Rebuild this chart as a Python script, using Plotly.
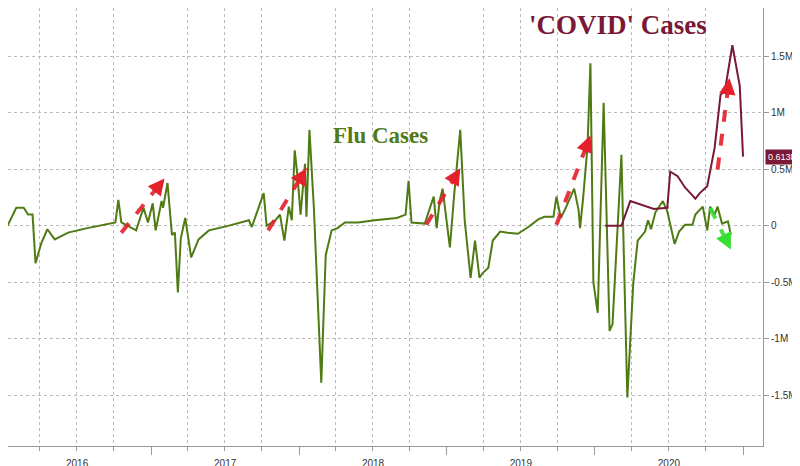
import pandas as pd
import plotly.graph_objects as go

# positions given as fractional years, values in millions
flu_t = [2016.03, 2016.09, 2016.14, 2016.17, 2016.20, 2016.22, 2016.26, 2016.30, 2016.35, 2016.44,
         2016.57, 2016.71, 2016.76, 2016.78, 2016.80, 2016.90, 2016.95, 2016.98, 2017.01, 2017.03,
         2017.07, 2017.08, 2017.11, 2017.14, 2017.16, 2017.18, 2017.20, 2017.23, 2017.27, 2017.32,
         2017.39, 2017.52, 2017.64, 2017.66, 2017.68, 2017.76, 2017.78, 2017.84, 2017.87, 2017.90,
         2017.93, 2017.95, 2017.97, 2017.99, 2018.01, 2018.04, 2018.05, 2018.07, 2018.10, 2018.15,
         2018.18, 2018.22, 2018.26, 2018.31, 2018.40, 2018.51, 2018.66, 2018.72, 2018.74, 2018.76,
         2018.85, 2018.91, 2018.93, 2018.95, 2018.97, 2019.02, 2019.05, 2019.09, 2019.12, 2019.16,
         2019.19, 2019.22, 2019.24, 2019.28, 2019.31, 2019.36, 2019.41, 2019.48, 2019.55, 2019.62,
         2019.66, 2019.72, 2019.74, 2019.77, 2019.80, 2019.84, 2019.86, 2019.89, 2019.90, 2019.92,
         2019.95, 2019.97, 2019.99, 2020.02, 2020.06, 2020.10, 2020.12, 2020.18, 2020.22, 2020.26,
         2020.29, 2020.34, 2020.36, 2020.38, 2020.41, 2020.46, 2020.49, 2020.54, 2020.57, 2020.61,
         2020.66, 2020.68, 2020.73, 2020.76, 2020.78, 2020.81, 2020.83, 2020.86, 2020.90, 2020.92]
flu_v = [0.0, 0.16, 0.16, 0.10, 0.10, -0.33, -0.15, -0.03, -0.12, -0.06,
         -0.02, 0.02, 0.03, 0.23, 0.03, -0.04, 0.16, 0.03, 0.20, -0.04,
         0.22, 0.16, 0.38, -0.08, -0.06, -0.59, -0.11, 0.07, -0.28, -0.12,
         -0.04, 0.0, 0.04, 0.05, -0.01, 0.29, 0.0, 0.05, 0.10, -0.13,
         0.17, 0.05, 0.67, 0.42, 0.10, 0.55, 0.08, 0.85, 0.16, -1.39,
         -0.26, -0.04, -0.02, 0.03, 0.03, 0.05, 0.07, 0.10, 0.40, 0.03,
         0.02, 0.26, -0.02, 0.22, 0.33, -0.19, 0.29, 0.85, 0.05, -0.46,
         -0.13, -0.46, -0.42, -0.37, -0.13, -0.05, -0.06, -0.07, -0.01, 0.06,
         0.08, 0.08, 0.26, 0.07, 0.15, 0.28, 0.33, 0.14, -0.02, 0.24,
         0.70, 1.44, -0.50, -0.77, 1.09, -0.93, -0.87, 0.63, -1.52, -0.51,
         -0.13, -0.05, 0.05, -0.03, 0.12, 0.22, 0.13, -0.16, -0.05, 0.01,
         0.01, 0.10, 0.17, -0.04, 0.17, 0.10, 0.17, 0.02, 0.04, -0.08]

covid_t = [2020.07, 2020.18, 2020.24, 2020.31, 2020.40, 2020.49, 2020.51, 2020.56, 2020.61, 2020.66,
           2020.68, 2020.71, 2020.76, 2020.81, 2020.85, 2020.88, 2020.93, 2020.98, 2021.00]
covid_v = [0.0, 0.0, 0.22, 0.19, 0.15, 0.16, 0.48, 0.44, 0.34, 0.27,
           0.24, 0.29, 0.35, 0.69, 1.16, 1.20, 1.60, 1.24, 0.613]

# trend arrows: start (t, v) -> end (t, v)
red_arrows = [((2016.80, -0.06), (2017.09, 0.42)),
              ((2017.79, -0.04), (2018.05, 0.51)),
              ((2018.86, 0.01), (2019.09, 0.51)),
              ((2019.74, 0.01), (2019.97, 0.80)),
              ((2020.83, 0.50), (2020.91, 1.31))]
green_arrows = [((2020.78, 0.16), (2020.92, -0.21))]

FLU = "#4f7a14"
COVID = "#7a1838"


def to_date(t):
    y = int(t)
    return pd.Timestamp(year=y, month=1, day=1) + pd.Timedelta(days=(t - y) * 365.25)


fig = go.Figure()
fig.add_trace(go.Scatter(x=[to_date(t) for t in flu_t], y=[v * 1e6 for v in flu_v],
                         mode="lines", line=dict(color=FLU, width=2)))
fig.add_trace(go.Scatter(x=[to_date(t) for t in covid_t], y=[v * 1e6 for v in covid_v],
                         mode="lines", line=dict(color=COVID, width=2)))

for arrows, col in [(red_arrows, "#e4202a"), (green_arrows, "#33e033")]:
    for (t0, v0), (t1, v1) in arrows:
        fig.add_trace(go.Scatter(x=[to_date(t0), to_date(t1)], y=[v0 * 1e6, v1 * 1e6],
                                 mode="lines", line=dict(color=col, width=4, dash="dash"),
                                 opacity=0.9))
        tm, vm = t0 + 0.8 * (t1 - t0), v0 + 0.8 * (v1 - v0)
        fig.add_annotation(x=to_date(t1), y=v1 * 1e6, ax=to_date(tm), ay=vm * 1e6,
                           xref="x", yref="y", axref="x", ayref="y", text="",
                           showarrow=True, arrowhead=2, arrowsize=1.1, arrowwidth=3,
                           arrowcolor=col)

fig.add_annotation(x=to_date(2018.55), y=0.8e6, text="<b>Flu Cases</b>", showarrow=False,
                   font=dict(family="Liberation Serif", size=23, color=FLU))
fig.add_annotation(x=to_date(2020.16), y=1.78e6, text="<b>'COVID' Cases</b>", showarrow=False,
                   font=dict(family="Liberation Serif", size=27, color=COVID))
fig.add_annotation(x=1.0, xref="paper", xanchor="left", xshift=2, y=covid_v[-1] * 1e6, yref="y",
                   text="0.613M", showarrow=False, bgcolor=COVID,
                   font=dict(family="Liberation Sans", size=9, color="white"), borderpad=2)

yt = [-1.5e6, -1e6, -0.5e6, 0, 0.5e6, 1e6, 1.5e6]
yl = ["-1.5M", "-1M", "-0.5M", "0", "0.5M", "1M", "1.5M"]

fig.update_layout(
    width=800, height=466, showlegend=False,
    paper_bgcolor="white", plot_bgcolor="white",
    margin=dict(l=0, r=45, t=0, b=28, autoexpand=False),
    font=dict(family="Liberation Sans", size=10, color="#333"),
    xaxis=dict(range=[to_date(2016.034), to_date(2021.135)], dtick="M12", tick0="2016-01-01",
               ticklabelmode="period", tickformat="%Y", ticks="outside", ticklen=8,
               tickcolor="#999", showline=True, linecolor="#999", automargin=False,
               showgrid=False,
               minor=dict(dtick="M3", ticks="outside", ticklen=4, tickcolor="#999",
                          showgrid=True, gridcolor="#bbb", griddash="dot")),
    yaxis=dict(side="right", range=[-1.95e6, 1.93e6], tickvals=yt, ticktext=yl,
               ticks="outside", ticklen=5, tickcolor="#999", showline=True, linecolor="#999",
               gridcolor="#bbb", griddash="dot", zeroline=False, automargin=False),
)

fig.write_html("out.html")
